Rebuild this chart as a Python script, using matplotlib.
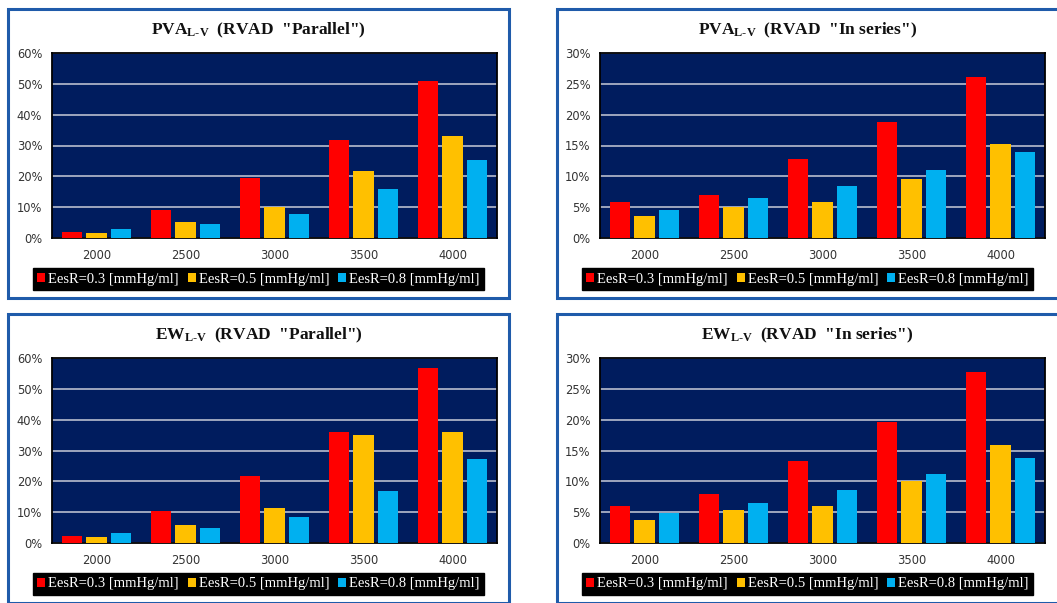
import numpy as np
import matplotlib.pyplot as plt
from matplotlib.patches import Rectangle
from matplotlib.ticker import PercentFormatter, MultipleLocator

W, H = 1057, 603

categories = ['2000', '2500', '3000', '3500', '4000']
series_labels = ['EesR=0.3 [mmHg/ml]', 'EesR=0.5 [mmHg/ml]', 'EesR=0.8 [mmHg/ml]']
series_colors = ['#FF0000', '#FFC000', '#00B0F0']

# values in %
pva_parallel_03 = [1.9, 9.2, 19.5, 31.9, 50.8]
pva_parallel_05 = [1.7, 5.2, 9.9, 21.7, 33.1]
pva_parallel_08 = [2.8, 4.5, 7.8, 15.9, 25.2]

pva_series_03 = [5.8, 6.9, 12.8, 18.8, 26.1]
pva_series_05 = [3.5, 5.0, 5.8, 9.5, 15.2]
pva_series_08 = [4.6, 6.5, 8.4, 11.1, 13.9]

ew_parallel_03 = [2.3, 10.4, 21.8, 35.9, 56.8]
ew_parallel_05 = [2.0, 5.9, 11.3, 34.9, 36.1]
ew_parallel_08 = [3.2, 4.9, 8.5, 16.8, 27.1]

ew_series_03 = [6.0, 7.9, 13.3, 19.7, 27.7]
ew_series_05 = [3.8, 5.4, 6.0, 10.0, 15.9]
ew_series_08 = [4.9, 6.5, 8.6, 11.2, 13.8]

plt.rcParams['mathtext.fontset'] = 'custom'
plt.rcParams['mathtext.rm'] = 'Liberation Serif:bold'
plt.rcParams['mathtext.default'] = 'rm'

panels = [
    (r'$PVA_{L\text{-}V}$  (RVAD  "Parallel")', [pva_parallel_03, pva_parallel_05, pva_parallel_08], 60, 10, 0, 0),
    (r'$PVA_{L\text{-}V}$  (RVAD  "In series")', [pva_series_03, pva_series_05, pva_series_08], 30, 5, 1, 0),
    (r'$EW_{L\text{-}V}$  (RVAD  "Parallel")', [ew_parallel_03, ew_parallel_05, ew_parallel_08], 60, 10, 0, 1),
    (r'$EW_{L\text{-}V}$  (RVAD  "In series")', [ew_series_03, ew_series_05, ew_series_08], 30, 5, 1, 1),
]


def fx(px):
    return px / W


def fy(py):
    return 1 - py / H


fig = plt.figure(figsize=(W / 100, H / 100), dpi=100)
fig.patch.set_facecolor('white')

x = np.arange(len(categories))
bw = 0.225
step = 0.275

for title, values, ymax, ystep, col, row in panels:
    dx = 548 * col
    dy = 305 * row
    box_l, box_r = (8, 509) if col == 0 else (557, 1062)
    box_t, box_b = 9 + dy, 298 + dy
    fig.add_artist(Rectangle((fx(box_l), fy(box_b)), fx(box_r - box_l), (box_b - box_t) / H,
                             transform=fig.transFigure, facecolor='white',
                             edgecolor='#1F5BAA', linewidth=2.2, zorder=0))

    ax = fig.add_axes([fx(52 + dx), fy(238 + dy), fx(445), 185 / H])
    ax.set_facecolor('#001C5E')
    for i in range(3):
        ax.bar(x + (i - 1) * step, values[i], bw, color=series_colors[i],
               label=series_labels[i], zorder=3)
    ax.set_xlim(-0.5, len(categories) - 0.5)
    ax.set_ylim(0, ymax)
    ax.yaxis.set_major_locator(MultipleLocator(ystep))
    ax.yaxis.set_major_formatter(PercentFormatter(xmax=100, decimals=0))
    ax.set_xticks(x)
    ax.set_xticklabels(categories)
    ax.tick_params(length=0, labelsize=8.3, labelcolor='#333333')
    ax.tick_params(axis='y', pad=7)
    ax.tick_params(axis='x', pad=8)
    ax.grid(axis='y', color='#C8CCD8', linewidth=1.1, zorder=0)
    for s in ax.spines.values():
        s.set_color('black')
        s.set_linewidth(1.3)

    cx = (box_l + min(box_r, 1058)) / 2
    fig.text(fx(cx), fy(30 + dy), title, ha='center', va='center',
             fontsize=12.5, family='Liberation Serif', fontweight='bold', color='#111111')

    leg = ax.legend(loc='center', bbox_to_anchor=(fx(cx), fy(279 + dy)),
                    bbox_transform=fig.transFigure, ncol=3, frameon=True, fancybox=False,
                    handlelength=0.55, handleheight=0.6, handletextpad=0.2,
                    columnspacing=0.6, borderpad=0.3,
                    prop={'family': 'Liberation Serif', 'size': 10.5})
    leg.get_frame().set_facecolor('black')
    leg.get_frame().set_edgecolor('black')
    leg.get_frame().set_alpha(1)
    for t in leg.get_texts():
        t.set_color('white')

plt.savefig('out.png', dpi=100)
